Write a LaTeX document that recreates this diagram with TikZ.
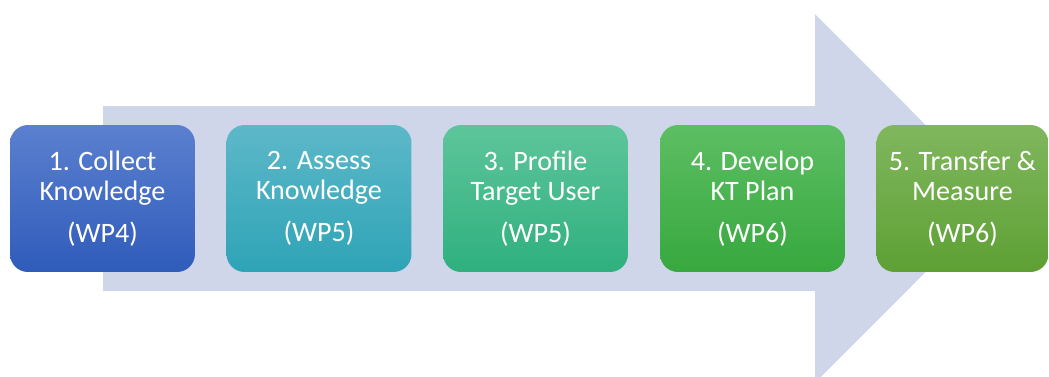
\documentclass[tikz,border=0pt]{standalone}
\usepackage{fontspec}
\setmainfont{Carlito}
\usepackage{tikz}

\definecolor{arrowfill}{HTML}{D0D6EA}
\definecolor{bluetop}{HTML}{5B80CF}
\definecolor{bluebot}{HTML}{2F5BBA}
\definecolor{tealtop}{HTML}{5DB8C9}
\definecolor{tealbot}{HTML}{2EA4B6}
\definecolor{minttop}{HTML}{5EC59B}
\definecolor{mintbot}{HTML}{2FB07E}
\definecolor{greentop}{HTML}{5DBE63}
\definecolor{greenbot}{HTML}{37A83E}
\definecolor{olivetop}{HTML}{80B75E}
\definecolor{olivebot}{HTML}{5EA034}

\begin{document}
\begin{tikzpicture}[x=0.02cm, y=-0.02cm,
  stage/.style={rounded corners=0.36cm, minimum width=3.7cm, minimum height=2.94cm,
    inner sep=0pt, text=white, align=center, font=\fontsize{16}{17}\selectfont}]
\useasboundingbox (0,0) rectangle (1049,376);

% big arrow behind the stages
\fill[arrowfill] (103,106) -- (815,106) -- (815,14) -- (999,198.5) -- (815,383)
  -- (815,291) -- (103,291) -- cycle;

\node[stage, top color=bluetop, bottom color=bluebot] (collect) at (102.5,198.5)
  {1. Collect\\Knowledge\\[6.8pt](WP4)};

\node[stage, top color=tealtop, bottom color=tealbot] (assess) at (319,198.5)
  {2. Assess\\Knowledge\\[6.8pt](WP5)};

\node[stage, top color=minttop, bottom color=mintbot] (profile) at (535.5,198.5)
  {3. Profile\\Target User\\[6.8pt](WP5)};

\node[stage, top color=greentop, bottom color=greenbot] (develop) at (752.5,198.5)
  {4. Develop\\KT Plan\\[6.8pt](WP6)};

\node[stage, minimum width=3.44cm, top color=olivetop, bottom color=olivebot] (transfer) at (962.5,198.5)
  {5. Transfer \&\\Measure\\[6.8pt](WP6)};
\end{tikzpicture}
\end{document}
